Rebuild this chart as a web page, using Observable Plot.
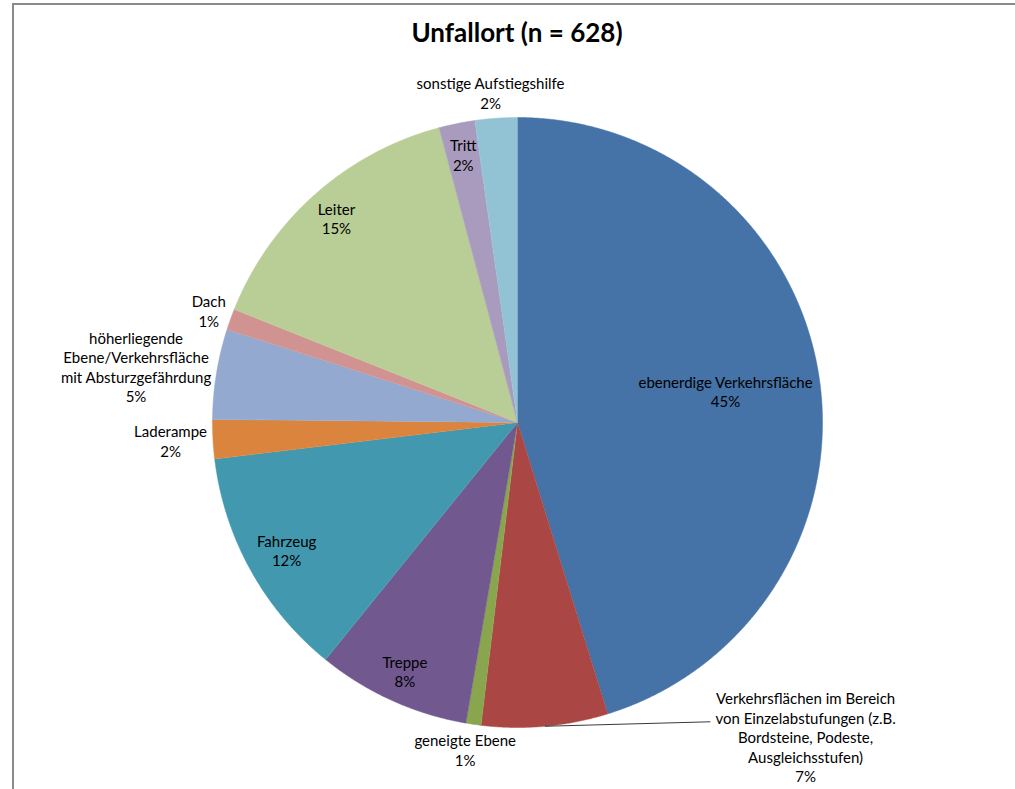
<!DOCTYPE html>
<html>
<head>
<meta charset="utf-8">
<script src="https://cdn.jsdelivr.net/npm/d3@7"></script>
<script src="https://cdn.jsdelivr.net/npm/@observablehq/plot@0.6"></script>
<style>
  html, body { margin: 0; padding: 0; background: #fff; }
  #wrap { position: relative; width: 1015px; height: 789px; overflow: hidden; font-family: Lato, "Noto Sans", sans-serif; }
  #frame { position: absolute; left: 12px; top: 3px; width: 1010px; height: 800px; border-top: 2px solid #8a8a8a; border-left: 2px solid #8a8a8a; pointer-events: none; }
  #title { position: absolute; left: 0; width: 1034px; top: 16px; text-align: center; font: bold 26px Lato, "Noto Sans", sans-serif; color: #000; }
  #chart { position: absolute; left: 0; top: 0; }
</style>
</head>
<body>
<div id="wrap">
  <div id="chart"></div>
  <div id="frame"></div>
  <div id="title">Unfallort (n = 628)</div>
</div>
<script>
// ---- data ----
const categories = [
  "ebenerdige Verkehrsfläche",
  "Verkehrsflächen im Bereich von Einzelabstufungen (z.B. Bordsteine, Podeste, Ausgleichsstufen)",
  "geneigte Ebene",
  "Treppe",
  "Fahrzeug",
  "Laderampe",
  "höherliegende Ebene/Verkehrsfläche mit Absturzgefährdung",
  "Dach",
  "Leiter",
  "Tritt",
  "sonstige Aufstiegshilfe"
];
const counts = [284, 42, 5, 51, 77, 13, 30, 7, 93, 12, 14];
const labelLines = [
  ["ebenerdige Verkehrsfläche"],
  ["Verkehrsflächen im Bereich", "von Einzelabstufungen (z.B.", "Bordsteine, Podeste,", "Ausgleichsstufen)"],
  ["geneigte Ebene"],
  ["Treppe"],
  ["Fahrzeug"],
  ["Laderampe"],
  ["höherliegende", "Ebene/Verkehrsfläche", "mit Absturzgefährdung"],
  ["Dach"],
  ["Leiter"],
  ["Tritt"],
  ["sonstige Aufstiegshilfe"]
];
const colors = ["#4572A7", "#AA4643", "#89A54E", "#71588F", "#4198AF", "#DB843D",
                "#93A9CF", "#D19392", "#B9CD96", "#A99BBD", "#92C3D4"];
const placement = ["inside", "outside", "outside", "inside", "inside", "outside",
                   "outside", "outside", "inside", "inside", "outside"];

// ---- layout ----
const W = 1015, H = 789, CX = 517, CY = 422, R = 305;
const FS = 15, LH = 19.5;
const draggedLabel = {1: [252, -44]}; // label moved by hand, with leader line

const total = d3.sum(counts);
const ctx = document.createElement("canvas").getContext("2d");
ctx.font = `${FS}px Lato`;
const textW = s => ctx.measureText(s).width;

// slice geometry (unit circle, angle clockwise from 12 o'clock)
const piePts = [];
const labels = [];
const leaders = [];
let cum = 0;
categories.forEach((cat, i) => {
  const a0 = 2 * Math.PI * cum / total;
  cum += counts[i];
  const a1 = 2 * Math.PI * cum / total;
  const n = Math.max(2, Math.ceil((a1 - a0) / 0.004));
  piePts.push({cat, x: 0, y: 0});
  for (let k = 0; k <= n; k++) {
    const a = a0 + (a1 - a0) * k / n;
    piePts.push({cat, x: Math.sin(a), y: -Math.cos(a)});
  }
  const mid = (a0 + a1) / 2;
  const s = Math.sin(mid), c = Math.cos(mid);
  const pct = Math.round(counts[i] / total * 100) + "%";
  const lines = [...labelLines[i], pct];
  const w = d3.max(lines, textW);
  const h = lines.length * LH;
  const hw = w / 2 / R, hh = h / 2 / R;
  let lx, ly;
  if (placement[i] === "inside") {
    let r = 0.895;
    const fits = (x, y) => [[-1,-1],[1,-1],[-1,1],[1,1]].every(([dx, dy]) => Math.hypot(x + dx * hw, y + dy * hh) < 0.985);
    while (r > 0.2 && !fits(s * r, -c * r)) r -= 0.005;
    lx = s * r; ly = -c * r;
  } else {
    const ra = 1 + 6 / R;
    lx = s * ra + s * hw;
    ly = -c * ra - c * hh;
  }
  if (draggedLabel[i]) {
    lx += draggedLabel[i][0] / R;
    ly += draggedLabel[i][1] / R;
    leaders.push({x1: s, y1: -c, x2: lx - hw - 5 / R, y2: ly - 15 / R});
  }
  labels.push({cat, text: lines.join("\n"), x: lx, y: ly});
});

const chart = Plot.plot({
  width: W,
  height: H,
  margin: 0,
  style: {background: "transparent", fontFamily: "Lato, 'Noto Sans', sans-serif"},
  x: {domain: [-CX / R, (W - CX) / R], range: [0, W], axis: null},
  y: {domain: [-CY / R, (H - CY) / R], range: [0, H], axis: null},
  color: {domain: categories, range: colors},
  marks: [
    Plot.line(piePts, {x: "x", y: "y", z: "cat", fill: "cat", stroke: "cat", strokeWidth: 0.5, curve: "linear"}),
    Plot.link(leaders, {x1: "x1", y1: "y1", x2: "x2", y2: "y2", stroke: "#3a3a3a", strokeWidth: 1}),
    Plot.text(labels, {x: "x", y: "y", text: "text", fontSize: FS, lineHeight: LH / FS,
                       textAnchor: "middle", lineAnchor: "middle", fill: "#000"})
  ]
});
document.getElementById("chart").appendChild(chart);
</script>
</body>
</html>
